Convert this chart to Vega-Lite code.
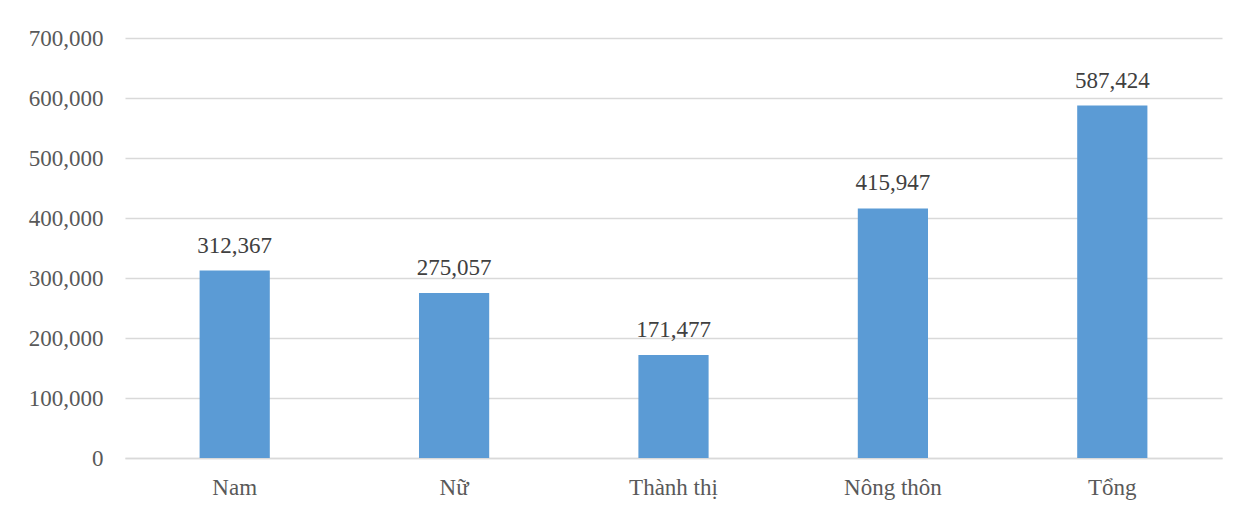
{
  "$schema": "https://vega.github.io/schema/vega-lite/v6.json",
  "width": 1097,
  "height": 420,
  "autosize": {"type": "none"},
  "padding": {"left": 125, "top": 38, "right": 27, "bottom": 57},
  "background": "white",
  "data": {"values": [
    {"cat": "Nam", "value": 312367},
    {"cat": "Nữ", "value": 275057},
    {"cat": "Thành thị", "value": 171477},
    {"cat": "Nông thôn", "value": 415947},
    {"cat": "Tổng", "value": 587424}
  ]},
  "config": {
    "view": {"stroke": null},
    "font": "Liberation Serif"
  },
  "encoding": {
    "x": {"field": "cat", "type": "nominal", "sort": null,
      "scale": {"paddingInner": 0.68, "paddingOuter": 0.34},
      "axis": {"title": null, "labelAngle": 0, "labelFont": "Liberation Serif", "labelFontSize": 23, "labelColor": "#595959", "labelPadding": 18, "ticks": false, "domainColor": "#d9d9d9", "domainWidth": 1.5}},
    "y": {"field": "value", "type": "quantitative",
      "scale": {"domain": [0, 700000]},
      "axis": {"title": null, "values": [0,100000,200000,300000,400000,500000,600000,700000], "format": ",d", "labelFont": "Liberation Serif", "labelFontSize": 23, "labelColor": "#595959", "labelPadding": 22, "ticks": false, "domain": false, "gridColor": "#d9d9d9", "gridWidth": 1.5}}
  },
  "layer": [
    {"mark": {"type": "bar", "color": "#5b9bd5"}},
    {"mark": {"type": "text", "baseline": "bottom", "dy": -13, "font": "Liberation Serif", "fontSize": 23, "color": "#404040"},
     "encoding": {"text": {"field": "value", "type": "quantitative", "format": ",d"}}}
  ]
}
